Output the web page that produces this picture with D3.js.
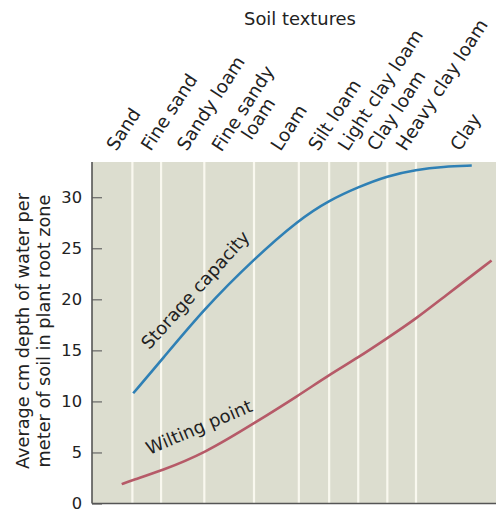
<!DOCTYPE html>
<html>
<head>
<meta charset="utf-8">
<script src="https://cdn.jsdelivr.net/npm/d3@7"></script>
<style>
  html, body { margin: 0; padding: 0; background: #ffffff; }
  svg { display: block; }
  text { font-family: "DejaVu Sans", sans-serif; fill: #222; }
</style>
</head>
<body>
<svg id="chart" width="496" height="510"></svg>
<script>
// ---- Data ----
const categories = ["Sand", "Fine sand", "Sandy loam", "Fine sandy\nloam", "Loam", "Silt loam",
                    "Light clay loam", "Clay loam", "Heavy clay loam", "Clay"];
// texture index (0-10) where each texture class ends / next one begins
const boundaries = [1.0, 1.71, 2.78, 4.01, 5.12, 5.87, 6.59, 7.31, 8.02];
const textureMin = 0, textureMax = 10;

const storageX = [1.02, 1.71, 2.78, 4.02, 5.12, 5.87, 6.59, 7.31, 8.02, 8.70, 9.40];
const storageY = [10.8, 14.0, 19.1, 24.0, 27.8, 29.7, 31.0, 32.1, 32.7, 33.0, 33.1];

const wiltX = [0.735, 1.0, 1.71, 2.78, 4.01, 5.12, 5.87, 6.59, 7.31, 8.02, 8.70, 9.89];
const wiltY = [1.9, 2.3, 3.2, 4.9, 7.85, 10.6, 12.6, 14.3, 16.2, 18.1, 20.2, 23.8];

const yTicks = [0, 5, 10, 15, 20, 25, 30];
const yMax = 33.45;

const xTitle = "Soil textures";
const yTitle = ["Average cm depth of water per", "meter of soil in plant root zone"];
const seriesLabels = [
  { text: "Storage capacity", x: 1.42, y: 15.0, angle: -48 },
  { text: "Wilting point", x: 1.42, y: 4.75, angle: -23 }
];

// ---- Layout ----
const W = 496, H = 510;
const margin = { left: 92, top: 162, right: 0, bottom: 6.5 };
const svg = d3.select("#chart");

const x = d3.scaleLinear().domain([textureMin, textureMax]).range([margin.left, W - margin.right]);
const y = d3.scaleLinear().domain([0, yMax]).range([H - margin.bottom, margin.top]);

// plot background
svg.append("rect")
  .attr("x", x(textureMin)).attr("y", y(yMax))
  .attr("width", x(textureMax) - x(textureMin))
  .attr("height", y(0) - y(yMax))
  .attr("fill", "#dcddcf");

// white class boundaries
svg.append("g").selectAll("line").data(boundaries).join("line")
  .attr("x1", d => x(d)).attr("x2", d => x(d))
  .attr("y1", y(yMax)).attr("y2", y(0))
  .attr("stroke", "#f9f8ef").attr("stroke-width", 2.2);

// y axis (ticks inward)
const yAxis = d3.axisRight(y).tickValues(yTicks).tickSize(10).tickFormat("");
const gy = svg.append("g").attr("transform", `translate(${x(textureMin)},0)`).call(yAxis);
gy.select(".domain").remove();
gy.selectAll(".tick line").attr("stroke", "#666").attr("stroke-width", 1.2);

svg.append("g").selectAll("text").data(yTicks).join("text")
  .attr("x", x(textureMin) - 10)
  .attr("y", d => y(d))
  .attr("dy", "0.36em")
  .attr("text-anchor", "end")
  .attr("font-size", 16.3)
  .text(d => d);

// axis lines
svg.append("line")
  .attr("x1", x(textureMin)).attr("x2", x(textureMin))
  .attr("y1", y(yMax)).attr("y2", y(0))
  .attr("stroke", "#555").attr("stroke-width", 1.6);
svg.append("line")
  .attr("x1", x(textureMin)).attr("x2", x(textureMax))
  .attr("y1", y(0)).attr("y2", y(0))
  .attr("stroke", "#555").attr("stroke-width", 1.6);

// curves
const line = d3.line().x(d => x(d[0])).y(d => y(d[1])).curve(d3.curveBasis);
svg.append("path").datum(d3.zip(storageX, storageY))
  .attr("d", line).attr("fill", "none")
  .attr("stroke", "#2f80b5").attr("stroke-width", 2.6);
svg.append("path").datum(d3.zip(wiltX, wiltY))
  .attr("d", line).attr("fill", "none")
  .attr("stroke", "#b65a68").attr("stroke-width", 2.6);

// series labels
svg.append("g").selectAll("text").data(seriesLabels).join("text")
  .attr("transform", d => `translate(${x(d.x)},${y(d.y)}) rotate(${d.angle})`)
  .attr("font-size", 17.9)
  .text(d => d.text);

// category labels (rotated)
const edges = [textureMin, ...boundaries, textureMax];
const labelAngle = -57, labelSize = 18.3, lh = 18.5;
const catG = svg.append("g");
categories.forEach((c, i) => {
  const cx = x((edges[i] + edges[i + 1]) / 2) + 4;
  const cy = y(yMax) - 10;
  const lines = c.split("\n");
  const g = catG.append("g").attr("transform", `translate(${cx},${cy}) rotate(${labelAngle})`);
  if (lines.length === 1) {
    g.append("text").attr("font-size", labelSize).text(lines[0]);
  } else {
    const t1 = g.append("text").attr("font-size", labelSize).attr("x", -7).attr("y", -lh / 2).text(lines[0]);
    const w1 = t1.node().getComputedTextLength();
    const t2 = g.append("text").attr("font-size", labelSize).attr("y", lh / 2).text(lines[1]);
    const w2 = t2.node().getComputedTextLength();
    t2.attr("x", -7 + (w1 - w2) / 2);
  }
});

// x title
svg.append("text")
  .attr("x", 300).attr("y", 25)
  .attr("text-anchor", "middle")
  .attr("font-size", 17.9)
  .text(xTitle);

// y title
yTitle.forEach((t, i) => {
  svg.append("text")
    .attr("transform", `translate(${29 + i * 21},331) rotate(-90)`)
    .attr("text-anchor", "middle")
    .attr("font-size", 17.7)
    .text(t);
});
</script>
</body>
</html>
